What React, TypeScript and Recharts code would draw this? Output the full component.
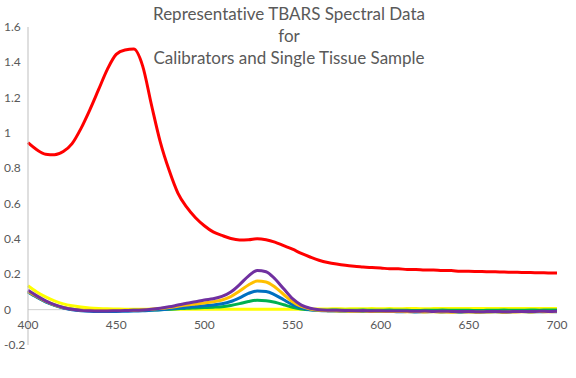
import React from "react";
import { LineChart, Line, XAxis, YAxis, ReferenceLine } from "recharts";

const wavelengths = Array.from({ length: 61 }, (_, i) => 400 + i * 5);

// tissue sample
const sample = [
  0.945, 0.905, 0.88, 0.877, 0.895, 0.94, 1.025, 1.13, 1.245, 1.36,
  1.445, 1.47, 1.475, 1.38, 1.16, 0.95, 0.79, 0.66, 0.58, 0.52,
  0.475, 0.44, 0.42, 0.403, 0.395, 0.396, 0.402, 0.396, 0.382, 0.362,
  0.342, 0.318, 0.298, 0.28, 0.267, 0.258, 0.251, 0.246, 0.242, 0.238,
  0.236, 0.231, 0.232, 0.227, 0.227, 0.224, 0.224, 0.221, 0.221, 0.217,
  0.217, 0.216, 0.215, 0.214, 0.213, 0.212, 0.211, 0.21, 0.209, 0.208,
  0.207,
];

// calibrators
const cal0 = [
  0.135, 0.1, 0.072, 0.05, 0.033, 0.022, 0.015, 0.01, 0.007, 0.005,
  0.004, 0.003, 0.003, 0.002, 0.002, 0.002, 0.002, 0.002, 0.002, 0.002,
  0.002, 0.002, 0.002, 0.002, 0.002, 0.002, 0.002, 0.002, 0.002, 0.002,
  0.002, 0.003, 0.003, 0.004, 0.004, 0.005, 0.004, 0.005, 0.005, 0.006,
  0.005, 0.006, 0.005, 0.006, 0.006, 0.005, 0.006, 0.007, 0.006, 0.006,
  0.007, 0.006, 0.007, 0.006, 0.007, 0.007, 0.006, 0.007, 0.007, 0.006,
  0.007,
];
const cal1 = [
  0.102, 0.072, 0.046, 0.026, 0.011, 0.002, -0.003, -0.005, -0.006, -0.006,
  -0.006, -0.005, -0.004, -0.004, -0.002, 0.0, 0.002, 0.005, 0.008, 0.01,
  0.012, 0.014, 0.017, 0.024, 0.034, 0.046, 0.053, 0.051, 0.042, 0.028,
  0.014, 0.004, -0.001, -0.003, -0.003, -0.002, -0.004, -0.003, -0.002, -0.004,
  -0.003, -0.002, -0.004, -0.003, -0.005, -0.003, -0.004, -0.002, -0.003, -0.004,
  -0.003, -0.005, -0.004, -0.003, -0.002, -0.004, -0.003, -0.002, -0.003, -0.002,
  -0.002,
];
const cal2 = [
  0.1, 0.07, 0.044, 0.024, 0.009, 0.0, -0.006, -0.009, -0.01, -0.01,
  -0.01, -0.009, -0.008, -0.006, -0.003, 0.0, 0.004, 0.009, 0.014, 0.018,
  0.022, 0.026, 0.033, 0.046, 0.067, 0.092, 0.106, 0.103, 0.084, 0.056,
  0.029, 0.01, 0.0, -0.005, -0.007, -0.008, -0.009, -0.008, -0.01, -0.009,
  -0.011, -0.01, -0.012, -0.011, -0.013, -0.012, -0.011, -0.013, -0.012, -0.014,
  -0.012, -0.015, -0.013, -0.012, -0.014, -0.012, -0.011, -0.013, -0.012, -0.011,
  -0.012,
];
const cal3 = [
  0.105, 0.075, 0.048, 0.027, 0.012, 0.003, -0.002, -0.004, -0.005, -0.005,
  -0.005, -0.004, -0.003, -0.001, 0.002, 0.006, 0.012, 0.019, 0.026, 0.032,
  0.038, 0.045, 0.055, 0.074, 0.105, 0.14, 0.162, 0.157, 0.128, 0.086,
  0.045, 0.018, 0.004, -0.003, -0.006, -0.007, -0.008, -0.009, -0.008, -0.01,
  -0.009, -0.011, -0.01, -0.012, -0.011, -0.013, -0.012, -0.013, -0.014, -0.012,
  -0.013, -0.014, -0.013, -0.012, -0.014, -0.013, -0.012, -0.013, -0.011, -0.012,
  -0.011,
];
const cal4 = [
  0.11, 0.078, 0.05, 0.028, 0.012, 0.002, -0.004, -0.006, -0.007, -0.007,
  -0.006, -0.005, -0.004, -0.002, 0.002, 0.008, 0.016, 0.026, 0.036, 0.045,
  0.055, 0.062, 0.075, 0.1, 0.142, 0.19, 0.222, 0.215, 0.175, 0.118,
  0.062, 0.026, 0.008, 0.0, -0.003, -0.004, -0.005, -0.006, -0.005, -0.007,
  -0.006, -0.008, -0.007, -0.008, -0.009, -0.008, -0.01, -0.009, -0.01, -0.011,
  -0.01, -0.012, -0.011, -0.01, -0.012, -0.011, -0.01, -0.011, -0.009, -0.01,
  -0.009,
];

const xTicks = [400, 450, 500, 550, 600, 650, 700];
const yTicks = [-0.2, 0, 0.2, 0.4, 0.6, 0.8, 1, 1.2, 1.4, 1.6];
const titleLines = [
  "Representative TBARS Spectral Data",
  "for",
  "Calibrators and Single Tissue Sample",
];

const data = wavelengths.map((nm, i) => ({
  nm,
  sample: sample[i],
  cal0: cal0[i],
  cal1: cal1[i],
  cal2: cal2[i],
  cal3: cal3[i],
  cal4: cal4[i],
}));

const W = 576;
const H = 378;
const TOP = 27;
const BOTTOM = 33;
const Y_MIN = -0.2;
const Y_MAX = 1.6;
// pixel row of y = 0, where Excel draws the horizontal axis
const ZERO_Y = TOP + ((Y_MAX - 0) / (Y_MAX - Y_MIN)) * (H - TOP - BOTTOM);

const FONT = "Lato, 'Open Sans', sans-serif";
const GREY = "#595959";

const XTick = (props: any) => (
  <text x={props.x} y={ZERO_Y + 19} textAnchor="middle" fontSize={12} fontFamily={FONT} fill={GREY}>
    {props.payload.value}
  </text>
);

const YTick = (props: any) => (
  <text x={4} y={props.y + 4} textAnchor="start" fontSize={12} fontFamily={FONT} fill={GREY}>
    {String(Number(props.payload.value.toFixed(1)))}
  </text>
);

const series = [
  { key: "sample", color: "#FF0000" },
  { key: "cal0", color: "#FFFF00" },
  { key: "cal1", color: "#00B050" },
  { key: "cal2", color: "#0070C0" },
  { key: "cal3", color: "#FFC000" },
  { key: "cal4", color: "#7030A0" },
];

export default function App() {
  return (
    <div style={{ position: "absolute", left: 0, top: 0, width: W, height: H, background: "#fff" }}>
      <LineChart width={W} height={H} data={data} margin={{ top: TOP, right: 19, bottom: 0, left: 0 }}>
        <XAxis
          dataKey="nm"
          type="number"
          domain={[400, 700]}
          ticks={xTicks}
          height={BOTTOM}
          axisLine={false}
          tickLine={false}
          tick={<XTick />}
        />
        <YAxis
          type="number"
          domain={[Y_MIN, Y_MAX]}
          ticks={yTicks}
          width={28}
          axisLine={{ stroke: "#BFBFBF" }}
          tickLine={false}
          tick={<YTick />}
        />
        <ReferenceLine y={0} stroke="#D0D0D0" />
        {series.map((s) => (
          <Line
            key={s.key}
            dataKey={s.key}
            type="monotone"
            stroke={s.color}
            strokeWidth={3}
            dot={false}
            isAnimationActive={false}
          />
        ))}
      </LineChart>
      <div
        style={{
          position: "absolute",
          left: 0,
          top: 3,
          width: 578,
          textAlign: "center",
          fontFamily: FONT,
          fontSize: 17,
          lineHeight: "22px",
          color: GREY,
          fontVariantLigatures: "none",
        }}
      >
        {titleLines.map((t) => (
          <div key={t}>{t}</div>
        ))}
      </div>
    </div>
  );
}
